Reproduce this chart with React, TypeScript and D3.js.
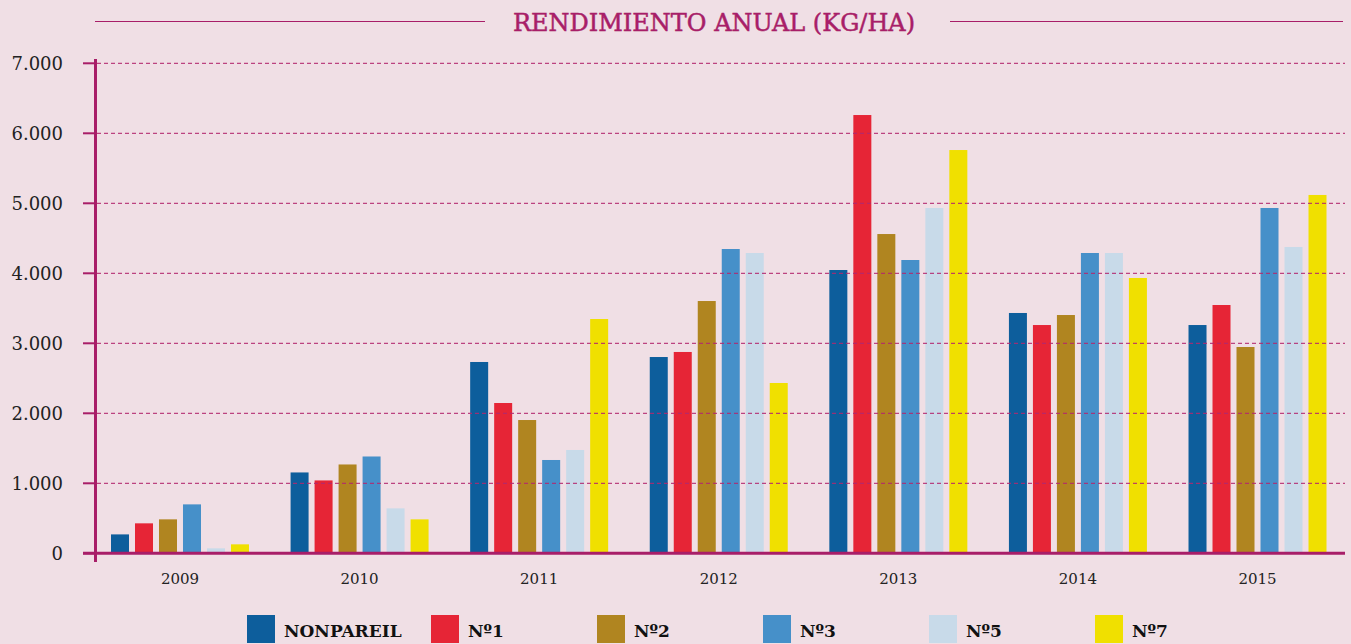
import React, { useEffect, useRef } from "react";
import * as d3 from "d3";

const years = ["2009", "2010", "2011", "2012", "2013", "2014", "2015"];
const seriesNames = ["NONPAREIL", "Nº1", "Nº2", "Nº3", "Nº5", "Nº7"];
const seriesColors = ["#0d5e9c", "#e62536", "#b08520", "#4690c9", "#c8dae9", "#f0e000"];
const nonpareil = [270, 1155, 2733, 2804, 4047, 3433, 3261];
const n1 = [428, 1041, 2147, 2876, 6261, 3261, 3547];
const n2 = [485, 1269, 1904, 3604, 4561, 3404, 2947];
const n3 = [699, 1383, 1333, 4347, 4190, 4290, 4933];
const n5 = [71, 642, 1476, 4290, 4933, 4290, 4376];
const n7 = [128, 485, 3347, 2433, 5761, 3933, 5119];
const yTicks = [0, 1000, 2000, 3000, 4000, 5000, 6000, 7000];
const title = "RENDIMIENTO ANUAL (KG/HA)";

const allSeries = [nonpareil, n1, n2, n3, n5, n7];

export default function App() {
  const ref = useRef<SVGSVGElement>(null);

  useEffect(() => {
    const svg = d3.select(ref.current);
    svg.selectAll("*").remove();
    const W = 1351, H = 644;
    const axisColor = "#a81e68";
    const serif = "'DejaVu Serif', serif";

    svg.append("rect").attr("width", W).attr("height", H).attr("fill", "#f0dfe5");

    const x0 = d3.scaleBand<string>().domain(years).range([90.2, 1347.3]).padding(0);
    const x1 = d3.scaleBand<string>().domain(seriesNames).range([0, x0.bandwidth()]).paddingInner(0.25).paddingOuter(0.5 * (179.6 - 138) / 24);
    const y = d3.scaleLinear().domain([0, 7000]).range([553.3, 63.3]);

    // title
    svg.append("line").attr("x1", 95).attr("x2", 485).attr("y1", 21.5).attr("y2", 21.5).attr("stroke", axisColor).attr("stroke-width", 1.2);
    svg.append("line").attr("x1", 950).attr("x2", 1343).attr("y1", 21.5).attr("y2", 21.5).attr("stroke", axisColor).attr("stroke-width", 1.2);
    svg.append("text").attr("x", 714).attr("y", 30.5).attr("text-anchor", "middle")
      .attr("font-family", serif).attr("font-size", 24).attr("fill", axisColor)
      .attr("stroke", axisColor).attr("stroke-width", 0.5).text(title);

    // bars
    const groups = svg.append("g").selectAll("g").data(years).join("g")
      .attr("transform", (d) => `translate(${x0(d)},0)`);
    groups.selectAll("rect").data((d, i) => seriesNames.map((s, j) => ({ s, v: allSeries[j][i], c: seriesColors[j] })))
      .join("rect")
      .attr("x", (d) => x1(d.s)!)
      .attr("width", x1.bandwidth())
      .attr("y", (d) => y(d.v))
      .attr("height", (d) => y(0) - y(d.v))
      .attr("fill", (d) => d.c);

    // gridlines (on top of bars)
    svg.append("g").selectAll("line").data(yTicks.filter((t) => t > 0)).join("line")
      .attr("x1", 97).attr("x2", 1345)
      .attr("y1", (d) => y(d)).attr("y2", (d) => y(d))
      .attr("stroke", "#b3286f").attr("stroke-width", 1.2).attr("stroke-dasharray", "4,3").attr("opacity", 0.85);

    // ticks
    svg.append("g").selectAll("line").data(yTicks).join("line")
      .attr("x1", 83).attr("x2", 96)
      .attr("y1", (d) => y(d)).attr("y2", (d) => y(d))
      .attr("stroke", axisColor).attr("stroke-width", 2);

    // tick labels
    const fmt = (v: number) => d3.format(",")(v).replace(/,/g, ".");
    svg.append("g").selectAll("text").data(yTicks).join("text")
      .attr("x", 63).attr("y", (d) => y(d) + 6.5)
      .attr("text-anchor", "end").attr("font-family", serif).attr("font-size", 18).attr("fill", "#222")
      .text((d) => fmt(d));

    // baseline
    svg.append("line").attr("x1", 83).attr("x2", 1345).attr("y1", y(0)).attr("y2", y(0))
      .attr("stroke", axisColor).attr("stroke-width", 3);
    // y axis
    svg.append("line").attr("x1", 95.5).attr("x2", 95.5).attr("y1", 59).attr("y2", 562)
      .attr("stroke", axisColor).attr("stroke-width", 3);

    // x labels
    svg.append("g").selectAll("text").data(years).join("text")
      .attr("x", (d) => x0(d)! + x0.bandwidth() / 2).attr("y", 584)
      .attr("text-anchor", "middle").attr("font-family", serif).attr("font-size", 15).attr("fill", "#222")
      .text((d) => d);

    // legend
    const lg = svg.append("g").selectAll("g").data(seriesNames).join("g")
      .attr("transform", (d, i) => `translate(${i === 0 ? 247 : 431 + (i - 1) * 166},615)`);
    lg.append("rect").attr("width", 28).attr("height", 28).attr("fill", (d, i) => seriesColors[i]);
    lg.append("text").attr("x", 37).attr("y", 22).attr("font-family", serif).attr("font-weight", "bold")
      .attr("font-size", 17).attr("fill", "#111").text((d) => d);
  }, []);

  return (
    <svg ref={ref} width={1351} height={644} style={{ position: "absolute", left: 0, top: 0, display: "block" }} />
  );
}
